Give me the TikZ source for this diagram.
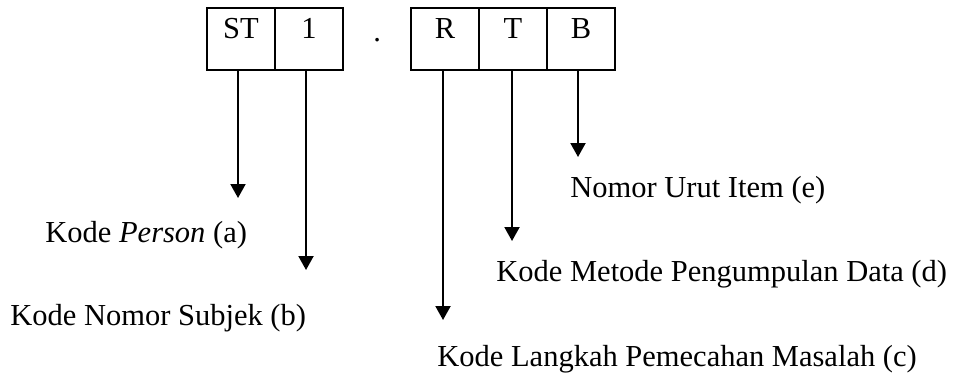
\documentclass[tikz,border=0pt]{standalone}
\usepackage{fontspec}
\setmainfont{Liberation Serif}
\usetikzlibrary{arrows.meta,positioning}
\newcommand{\kodefont}{\fontsize{15.25}{18}\selectfont}
\tikzset{
  kode/cell/.style={draw=black, line width=1pt, minimum width=34pt,
    inner sep=0pt, outer sep=0pt, text height=15pt, text depth=16pt,
    font=\kodefont},
  kode/label/.style={anchor=base west, inner sep=0pt, font=\kodefont},
  kode/arrow/.style={-{Triangle[length=7pt,width=7.5pt]}, draw=black,
    line width=1pt},
}

\begin{document}
\begin{tikzpicture}[x=0.5pt, y=-0.5pt]
\useasboundingbox (0,0) rectangle (978,376);
\node[kode/cell] (st) at (241,39) {ST};
\node[kode/cell, right=0pt of st] (nomor) {1};
\node[kode/label] (titik) at (373,41) {.};
\node[kode/cell] (langkah) at (445,39) {R};
\node[kode/cell, right=0pt of langkah] (metode) {T};
\node[kode/cell, right=0pt of metode] (urut) {B};

\coordinate (tipA) at (238,198);
\coordinate (tipB) at (306,270);
\coordinate (tipC) at (443,320);
\coordinate (tipD) at (512,241);
\coordinate (tipE) at (578,157);

\draw[kode/arrow] (st.south -| tipA) -- (tipA);
\draw[kode/arrow] (nomor.south -| tipB) -- (tipB);
\draw[kode/arrow] (langkah.south -| tipC) -- (tipC);
\draw[kode/arrow] (metode.south -| tipD) -- (tipD);
\draw[kode/arrow] (urut.south -| tipE) -- (tipE);

\node[kode/label] (lblA) at (45,242) {Kode \textit{Person} (a)};
\node[kode/label] (lblB) at (10,325) {Kode Nomor Subjek (b)};
\node[kode/label] (lblC) at (437,366) {Kode Langkah Pemecahan Masalah (c)};
\node[kode/label] (lblD) at (496,281) {Kode Metode Pengumpulan Data (d)};
\node[kode/label] (lblE) at (570,197) {Nomor Urut Item (e)};
\end{tikzpicture}
\end{document}
